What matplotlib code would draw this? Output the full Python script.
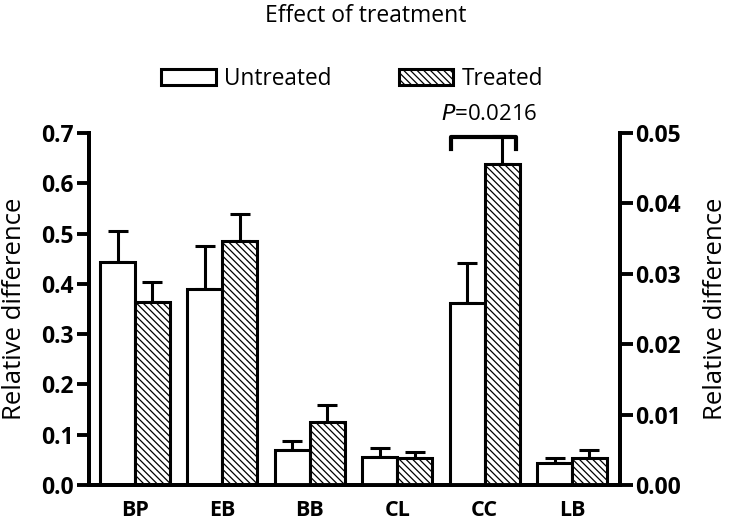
import numpy as np
import matplotlib
matplotlib.use('Agg')
import matplotlib.pyplot as plt
import matplotlib.patches as mpatches

plt.rcParams['font.family'] = ['Open Sans', 'DejaVu Sans']
plt.rcParams['hatch.linewidth'] = 0.9

# groups on the left axis and on the right axis
left_groups = ['BP', 'EB']
left_untreated = [0.443, 0.390]
left_untreated_err = [0.062, 0.086]
left_treated = [0.364, 0.485]
left_treated_err = [0.040, 0.054]

right_groups = ['BB', 'CL', 'CC', 'LB']
right_untreated = [0.0049, 0.0040, 0.0259, 0.0031]
right_untreated_err = [0.0014, 0.0013, 0.0057, 0.0008]
right_treated = [0.0090, 0.0039, 0.0456, 0.0039]
right_treated_err = [0.0023, 0.0008, 0.0040, 0.0011]

p_text = '$P$=0.0216'

w = 0.4
lw = 2.2
hatch = '\\\\\\\\\\'

fig = plt.figure(figsize=(7.32, 5.22), dpi=100)
ax = fig.add_axes([0.1216, 0.0709, 0.7254, 0.6743])
ax2 = ax.twinx()

xl = np.arange(len(left_groups))
xr = np.arange(len(right_groups)) + len(left_groups)

ebar = dict(lw=lw, capsize=7.5, capthick=lw, ecolor='black')

ax.bar(xl - w/2, left_untreated, w, color='white', edgecolor='black', linewidth=lw, zorder=2)
ax.bar(xl + w/2, left_treated, w, color='white', edgecolor='black', linewidth=lw, hatch=hatch, zorder=2)
ax.errorbar(xl - w/2, left_untreated, yerr=[np.zeros(2), left_untreated_err], fmt='none', zorder=1, **ebar)
ax.errorbar(xl + w/2, left_treated, yerr=[np.zeros(2), left_treated_err], fmt='none', zorder=1, **ebar)

ax2.bar(xr - w/2, right_untreated, w, color='white', edgecolor='black', linewidth=lw, zorder=2)
ax2.bar(xr + w/2, right_treated, w, color='white', edgecolor='black', linewidth=lw, hatch=hatch, zorder=2)
ax2.errorbar(xr - w/2, right_untreated, yerr=[np.zeros(4), right_untreated_err], fmt='none', zorder=1, **ebar)
ax2.errorbar(xr + w/2, right_treated, yerr=[np.zeros(4), right_treated_err], fmt='none', zorder=1, **ebar)

# significance bracket over CC
cc = xr[right_groups.index('CC')]
ax2.plot([cc - 0.39, cc - 0.39, cc + 0.355, cc + 0.355],
         [0.0477, 0.0494, 0.0494, 0.0477], color='black', lw=3, clip_on=False)
ax2.text(cc + 0.05, 0.0512, p_text, ha='center', va='bottom', fontsize=16)

ax.set_xlim(-0.526, 5.549)
ax.set_ylim(0, 0.7)
ax2.set_ylim(0, 0.05)
ax.set_yticks(np.arange(0, 0.71, 0.1))
ax.set_yticklabels(['%.1f' % v for v in np.arange(0, 0.71, 0.1)])
ax2.set_yticks(np.arange(0, 0.051, 0.01))
ax2.set_yticklabels(['%.2f' % v for v in np.arange(0, 0.051, 0.01)])
ax.set_xticks(np.concatenate([xl, xr]))
ax.set_xticklabels(left_groups + right_groups)

for a in (ax, ax2):
    for s in a.spines.values():
        s.set_linewidth(2.8)
    a.spines['top'].set_visible(False)
    a.tick_params(axis='y', direction='out', length=9, width=2.8, labelsize=16.5, pad=2)
    for t in a.get_yticklabels():
        t.set_fontweight('bold')
ax.tick_params(axis='x', length=0, labelsize=15.5, pad=11)
for t in ax.get_xticklabels():
    t.set_fontweight('bold')

ax.set_ylabel('Relative difference', fontsize=18.5, labelpad=10)
ax2.set_ylabel('Relative difference', fontsize=18.5, labelpad=16)

fig.suptitle('Effect of treatment', fontsize=16.5, y=0.993)

h1 = mpatches.Patch(facecolor='white', edgecolor='black', linewidth=2.2, label='Untreated')
h2 = mpatches.Patch(facecolor='white', edgecolor='black', linewidth=2.2, hatch=hatch, label='Treated')
fig.legend(handles=[h1, h2], loc='center', bbox_to_anchor=(0.481, 0.849), ncol=2,
           frameon=False, fontsize=16.3, handlelength=2.4, handleheight=0.75,
           columnspacing=3.0, handletextpad=0.35)

plt.savefig('out.png', dpi=100)
